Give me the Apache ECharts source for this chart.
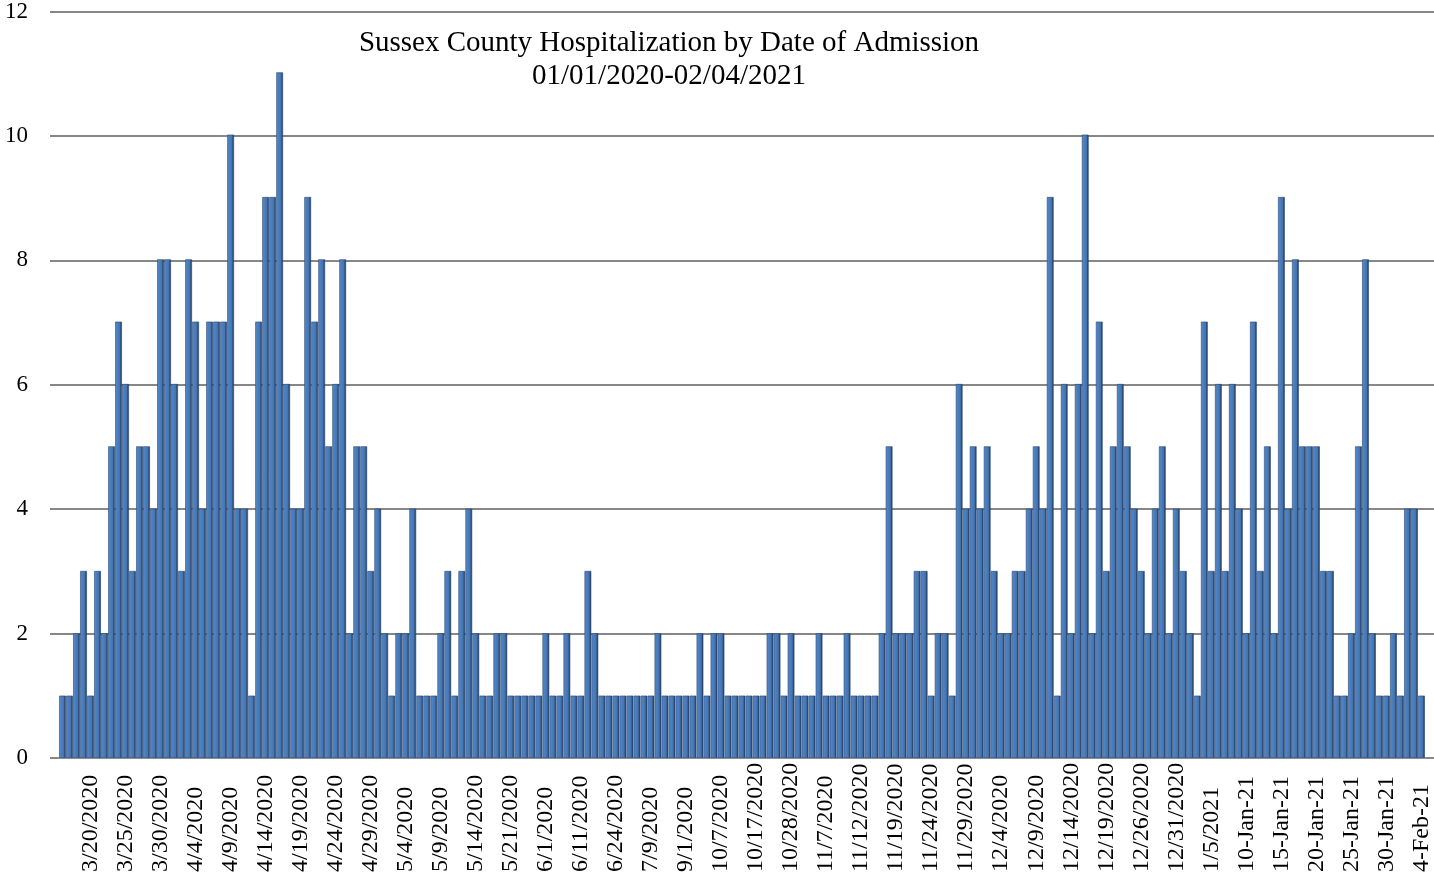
<!DOCTYPE html>
<html>
<head>
<meta charset="utf-8">
<script src="https://cdn.jsdelivr.net/npm/echarts@6/dist/echarts.min.js"></script>
<style>
html,body{margin:0;padding:0;background:#fff;}
#chart{width:1434px;height:880px;}
</style>
</head>
<body>
<div id="chart"></div>
<script>
const titleLines = ['Sussex County Hospitalization by Date of Admission', '01/01/2020-02/04/2021'];

const categories = [
'3/16/2020','3/17/2020','3/18/2020','3/19/2020',
'3/20/2020','3/21/2020','3/22/2020','3/23/2020','3/24/2020','3/25/2020','3/26/2020','3/27/2020','3/28/2020','3/29/2020','3/30/2020','3/31/2020',
'4/1/2020','4/2/2020','4/3/2020','4/4/2020','4/5/2020','4/6/2020','4/7/2020','4/8/2020','4/9/2020','4/10/2020',
'4/11/2020','4/12/2020','4/13/2020','4/14/2020','4/15/2020','4/16/2020','4/17/2020','4/18/2020','4/19/2020','4/20/2020',
'4/21/2020','4/22/2020','4/23/2020','4/24/2020','4/25/2020','4/26/2020','4/27/2020','4/28/2020','4/29/2020','4/30/2020',
'5/1/2020','5/2/2020','5/3/2020','5/4/2020','5/5/2020','5/6/2020','5/7/2020','5/8/2020','5/9/2020','5/10/2020',
'5/11/2020','5/12/2020','5/13/2020','5/14/2020',
'5/15/2020','5/16/2020','5/18/2020','5/20/2020','5/21/2020',
'5/22/2020','5/26/2020','5/28/2020','5/29/2020','6/1/2020',
'6/3/2020','6/5/2020','6/8/2020','6/9/2020','6/11/2020',
'6/12/2020','6/15/2020','6/18/2020','6/22/2020','6/24/2020',
'6/26/2020','6/29/2020','7/2/2020','7/6/2020','7/9/2020',
'7/15/2020','7/24/2020','8/6/2020','8/20/2020','9/1/2020',
'9/10/2020','9/18/2020','9/25/2020','10/2/2020','10/7/2020',
'10/9/2020','10/12/2020','10/13/2020','10/15/2020','10/17/2020',
'10/19/2020','10/21/2020','10/23/2020','10/26/2020','10/28/2020',
'10/30/2020','11/2/2020','11/4/2020','11/5/2020','11/7/2020',
'11/8/2020','11/9/2020','11/10/2020','11/11/2020','11/12/2020',
'11/13/2020','11/15/2020','11/17/2020','11/18/2020','11/19/2020',
'11/20/2020','11/21/2020','11/22/2020','11/23/2020','11/24/2020',
'11/25/2020','11/26/2020','11/27/2020','11/28/2020','11/29/2020',
'11/30/2020','12/1/2020','12/2/2020','12/3/2020','12/4/2020',
'12/5/2020','12/6/2020','12/7/2020','12/8/2020','12/9/2020',
'12/10/2020','12/11/2020','12/12/2020','12/13/2020','12/14/2020',
'12/15/2020','12/16/2020','12/17/2020','12/18/2020','12/19/2020',
'12/20/2020','12/22/2020','12/23/2020','12/24/2020','12/26/2020',
'12/27/2020','12/28/2020','12/29/2020','12/30/2020','12/31/2020',
'1/1/2021','1/2/2021','1/3/2021','1/4/2021','1/5/2021',
'6-Jan-21','7-Jan-21','8-Jan-21','9-Jan-21','10-Jan-21',
'11-Jan-21','12-Jan-21','13-Jan-21','14-Jan-21','15-Jan-21',
'16-Jan-21','17-Jan-21','18-Jan-21','19-Jan-21','20-Jan-21',
'21-Jan-21','22-Jan-21','23-Jan-21','24-Jan-21','25-Jan-21',
'26-Jan-21','27-Jan-21','28-Jan-21','29-Jan-21','30-Jan-21',
'31-Jan-21','1-Feb-21','2-Feb-21','3-Feb-21','4-Feb-21'
];

const admissions = [
1,1,2,3,1,3,2,5,7,6,3,5,5,4,8,8,6,3,8,7,4,7,7,7,10,4,4,1,7,9,9,11,6,
4,4,9,7,8,5,6,8,2,5,5,3,4,2,1,2,2,4,1,1,1,2,3,1,3,4,2,1,1,2,2,1,1,
1,1,1,2,1,1,2,1,1,3,2,1,1,1,1,1,1,1,1,2,1,1,1,1,1,2,1,2,2,1,1,1,1,1,1,
2,2,1,2,1,1,1,2,1,1,1,2,1,1,1,1,2,5,2,2,2,3,3,1,2,2,1,6,4,5,
4,5,3,2,2,3,3,4,5,4,9,1,6,2,6,10,2,7,3,5,6,5,4,3,2,4,5,2,4,3,2,1,7,
3,6,3,6,4,2,7,3,5,2,9,4,8,5,5,5,3,3,1,1,2,5,8,2,1,1,2,1,4,4,1
];

const yTicks = { min: 0, max: 12, interval: 2 };

const serif = "'Liberation Serif', 'Times New Roman', 'DejaVu Serif', serif";

const chart = echarts.init(document.getElementById('chart'), null, { renderer: 'canvas' });

const barGradient = new echarts.graphic.LinearGradient(0, 0, 1, 0, [
  { offset: 0, color: '#5f90cf' },
  { offset: 0.2, color: '#4f83c4' },
  { offset: 0.68, color: '#4474b0' },
  { offset: 0.8, color: '#30537f' },
  { offset: 1, color: '#22395c' }
]);

chart.setOption({
  animation: false,
  backgroundColor: '#ffffff',
  title: {
    text: titleLines.join('\n'),
    left: 664,
    top: 22,
    textAlign: 'center',
    textStyle: {
      fontFamily: serif,
      fontSize: 29,
      fontWeight: 'normal',
      color: '#000',
      lineHeight: 33
    }
  },
  grid: [
    { left: 50, right: 0, top: 10, bottom: 122, containLabel: false },
    { left: 59, right: 9, top: 10, bottom: 122, containLabel: false }
  ],
  xAxis: [
    { type: 'value', gridIndex: 0, show: false, min: 0, max: 1 },
    {
      type: 'category',
      gridIndex: 1,
      data: categories,
      boundaryGap: true,
      axisLine: { show: true, lineStyle: { color: '#9a9a9a', width: 2 } },
      axisTick: { show: false },
      splitLine: { show: false },
      axisLabel: {
        interval: function (idx) { return idx % 5 === 4; },
        rotate: 90,
        align: 'left',
        margin: 114,
        fontFamily: serif,
        fontSize: 24,
        color: '#000'
      }
    }
  ],
  yAxis: [
    {
      type: 'value',
      gridIndex: 0,
      min: yTicks.min,
      max: yTicks.max,
      interval: yTicks.interval,
      axisLine: { show: false },
      axisTick: { show: false },
      splitLine: { show: true, lineStyle: { color: '#878787', width: 2 } },
      axisLabel: {
        margin: 22,
        fontFamily: serif,
        fontSize: 23,
        color: '#000'
      }
    },
    {
      type: 'value',
      gridIndex: 1,
      min: yTicks.min,
      max: yTicks.max,
      interval: yTicks.interval,
      show: false,
      splitLine: { show: false }
    }
  ],
  series: [
    {
      type: 'bar',
      name: 'Hospitalizations',
      xAxisIndex: 1,
      yAxisIndex: 1,
      data: admissions,
      barCategoryGap: '4%',
      itemStyle: {
        color: barGradient,
        borderColor: '#2a4770',
        borderWidth: 0.6
      }
    }
  ]
});
</script>
</body>
</html>
